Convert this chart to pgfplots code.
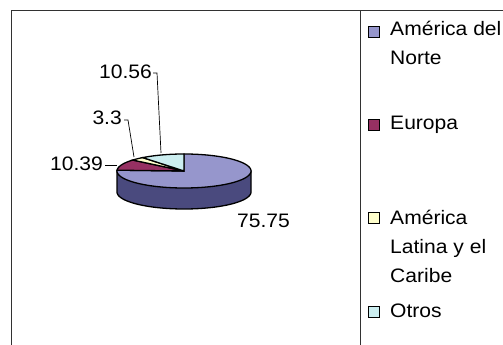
\documentclass[border=0pt]{standalone}
\usepackage{pgfplots}
\pgfplotsset{compat=1.18}
\usepackage{fontspec}
\setmainfont{Liberation Sans}[FakeStretch=1.08]
\definecolor{na}{RGB}{150,150,204}
\definecolor{naside}{RGB}{74,74,126}
\definecolor{eu}{RGB}{150,48,98}
\definecolor{la}{RGB}{255,255,204}
\definecolor{ot}{RGB}{204,238,240}
\definecolor{framec}{RGB}{50,50,50}
\newcommand\lf{\fontsize{19.5}{28.5}\selectfont}
\begin{document}
\begin{tikzpicture}
% data (percent)
\def\vNA{75.75}
\def\vEU{10.39}
\def\vLA{3.3}
\def\vOT{10.56}
% geometry (pixel units)
\def\cx{184}\def\cy{174}\def\rx{67}\def\ry{17}\def\dd{21}
\pgfmathsetmacro\aA{90}
\pgfmathsetmacro\aB{\aA-3.6*\vNA}
\pgfmathsetmacro\aC{\aB-3.6*\vEU}
\pgfmathsetmacro\aD{\aC-3.6*\vLA}
\pgfmathsetmacro\aE{\aD-3.6*\vOT}
\pgfmathsetmacro\xL{\cx-\rx}
\pgfmathsetmacro\xR{\cx+\rx}
\begin{axis}[at={(0,0)},anchor=south west,scale only axis,width=503pt,height=345pt,
  xmin=0,xmax=503,ymin=0,ymax=345,axis lines=none,clip=false]
% frame
\draw[framec,line width=1pt] (axis cs:11,0) -- (axis cs:11,334) -- (axis cs:503,334);
\draw[framec,line width=1pt] (axis cs:360.5,334) -- (axis cs:360.5,0);
% side of pie
\addplot[fill=naside,draw=black,line width=1.3pt,domain=180:360,samples=90,variable=\t]
  ({\cx+\rx*cos(\t)},{\cy-\dd+\ry*sin(\t)}) -- (axis cs:\xR,\cy) -- (axis cs:\xL,\cy) -- cycle;
% top slices
\addplot[fill=na,draw=black,line width=1.3pt,domain=\aB:\aA,samples=150,variable=\t]
  ({\cx+\rx*cos(\t)},{\cy+\ry*sin(\t)}) -- (axis cs:\cx,\cy) -- cycle;
\addplot[fill=eu,draw=black,line width=1.3pt,domain=\aC:\aB,samples=30,variable=\t]
  ({\cx+\rx*cos(\t)},{\cy+\ry*sin(\t)}) -- (axis cs:\cx,\cy) -- cycle;
\addplot[fill=la,draw=black,line width=1.3pt,domain=\aD:\aC,samples=15,variable=\t]
  ({\cx+\rx*cos(\t)},{\cy+\ry*sin(\t)}) -- (axis cs:\cx,\cy) -- cycle;
\addplot[fill=ot,draw=black,line width=1.3pt,domain=\aE:\aD,samples=30,variable=\t]
  ({\cx+\rx*cos(\t)},{\cy+\ry*sin(\t)}) -- (axis cs:\cx,\cy) -- cycle;
% data labels
\node[anchor=base east,inner sep=0,font=\lf] at (axis cs:152,266) {10.56};
\node[anchor=base east,inner sep=0,font=\lf] at (axis cs:122,220) {3.3};
\node[anchor=base east,inner sep=0,font=\lf] at (axis cs:103,174) {10.39};
\node[anchor=base west,inner sep=0,font=\lf] at (axis cs:237,117) {75.75};
\draw[black,line width=0.7pt] (axis cs:153,272) -- (axis cs:157,272) -- (axis cs:161,192);
\draw[black,line width=0.7pt] (axis cs:124,225) -- (axis cs:128,225) -- (axis cs:134,188);
\draw[black,line width=0.7pt] (axis cs:105,180) -- (axis cs:117,180);
% legend
\draw[fill=na,line width=1pt] (axis cs:368,318) rectangle (axis cs:379,307);
\draw[fill=eu,line width=1pt] (axis cs:368,225) rectangle (axis cs:379,214);
\draw[fill=la,line width=1pt] (axis cs:368,132) rectangle (axis cs:379,121);
\draw[fill=ot,line width=1pt] (axis cs:368,38) rectangle (axis cs:379,27);
\node[anchor=base west,inner sep=0,font=\lf] at (axis cs:390,309) {América del};
\node[anchor=base west,inner sep=0,font=\lf] at (axis cs:390,280) {Norte};
\node[anchor=base west,inner sep=0,font=\lf] at (axis cs:390,215) {Europa};
\node[anchor=base west,inner sep=0,font=\lf] at (axis cs:390,120) {América};
\node[anchor=base west,inner sep=0,font=\lf] at (axis cs:390,91) {Latina y el};
\node[anchor=base west,inner sep=0,font=\lf] at (axis cs:390,62) {Caribe};
\node[anchor=base west,inner sep=0,font=\lf] at (axis cs:390,27) {Otros};
\end{axis}
\pgfresetboundingbox
\path (0,0) rectangle (503pt,345pt);
\end{tikzpicture}
\end{document}
